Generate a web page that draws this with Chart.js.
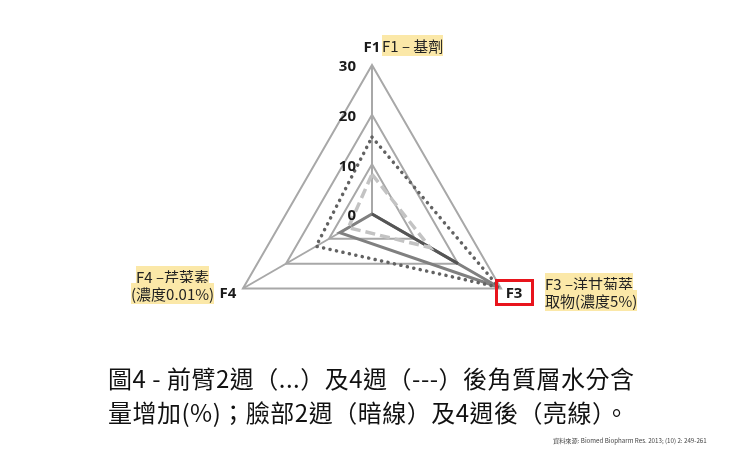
<!DOCTYPE html>
<html>
<head>
<meta charset="utf-8">
<script src="https://cdn.jsdelivr.net/npm/chart.js@4/dist/chart.umd.min.js"></script>
<style>
  html, body { margin: 0; padding: 0; background: #fff; }
  #wrap { position: relative; width: 740px; height: 463px; overflow: hidden; font-family: "Noto Sans CJK TC", "Noto Sans", sans-serif; }
  #chart { position: absolute; left: 0; top: 0; }
  .note { position: absolute; font-size: 15px; line-height: 17px; color: #222; white-space: nowrap; }
  .note span { background: #fbe8a8; }
  #f3box { position: absolute; left: 495px; top: 279px; width: 33px; height: 21px; border: 3.5px solid #e8141c; }
  .title { position: absolute; left: 108px; font-size: 24px; letter-spacing: 0.5px; color: #111; white-space: nowrap; line-height: 30px; }
  #source { position: absolute; left: 553px; top: 436px; font-size: 6.2px; color: #444; white-space: nowrap; }
</style>
</head>
<body>
<div id="wrap">
  <canvas id="chart" width="740" height="463"></canvas>
  <div id="f3box"></div>
  <div class="note" style="left:382px; top:37px;"><span>F1 – 基劑</span></div>
  <div class="note" style="left:545px; top:275px;"><span>F3 –洋甘菊萃</span><br><span>取物(濃度5%)</span></div>
  <div class="note" style="left:131px; top:268px; text-align:center;"><span>F4 –芹菜素</span><br><span>(濃度0.01%)</span></div>
  <div class="title" style="top:363px;">圖4 - 前臂2週（...）及4週（---）後角質層水分含</div>
  <div class="title" style="top:397px;">量增加(%)；臉部2週（暗線）及4週後（亮線）。</div>
  <div id="source">資料來源: Biomed Biopharm Res. 2013; (10) 2: 249-261</div>
</div>
<script>
// axes go clockwise from the top
const labels = ['F1', 'F3', 'F4'];
const tickLabels = [0, 10, 20, 30];

// values
const forearm2w = [15.5, 29.5, 13];
const forearm4w = [8, 13.5, 5.5];
const face2w = [0, 20, 0];
const face4w = [0, 29.5, 7.5];

// where the bold axis names sit relative to each outer corner
const labelOffsets = [[0, -17], [13, 5], [-15, 5]];

const axisText = {
    id: 'axisText',
    afterDraw(chart) {
        const r = chart.scales.r;
        const ctx = chart.ctx;
        ctx.save();
        ctx.fillStyle = '#1a1a1a';
        ctx.font = 'bold 15px "Open Sans"';
        ctx.textBaseline = 'middle';
        ctx.textAlign = 'right';
        tickLabels.forEach(v => {
            const d = r.getDistanceFromCenterForValue(v);
            ctx.fillText(String(v), r.xCenter - 16, r.yCenter - d + 2);
        });
        ctx.textAlign = 'center';
        labels.forEach((lab, i) => {
            const p = r.getPointPosition(i, r.drawingArea);
            ctx.fillText(lab, p.x + labelOffsets[i][0], p.y + labelOffsets[i][1]);
        });
        ctx.restore();
    }
};

const radarData = {
    labels: labels,
    datasets: [{
        label: '前臂2週',
        data: forearm2w,
        borderColor: '#626262',
        borderWidth: 3.5,
        borderDash: [0.1, 6.5],
        borderCapStyle: 'round',
        fill: false,
        clip: false
    }, {
        label: '前臂4週',
        data: forearm4w,
        borderColor: '#c3c3c3',
        borderWidth: 3.5,
        borderDash: [10, 5],
        fill: false,
        clip: false
    }, {
        label: '臉部2週',
        data: face2w,
        borderColor: '#555555',
        borderWidth: 3,
        fill: false,
        clip: false
    }, {
        label: '臉部4週',
        data: face4w,
        borderColor: '#808080',
        borderWidth: 3,
        fill: false,
        clip: false
    }]
};

const radarConfig = {
    type: 'radar',
    data: radarData,
    options: {
        responsive: false,
        animation: false,
        layout: { padding: { left: 223, right: 219, top: 65, bottom: 100 } },
        elements: {
            point: { radius: 0, hoverRadius: 0 },
            line: { tension: 0 }
        },
        plugins: {
            legend: { display: false },
            tooltip: { enabled: false }
        },
        scales: {
            r: {
                min: 0,
                max: 30,
                ticks: { stepSize: 10, display: false },
                pointLabels: { display: false },
                grid: { color: '#a8a8a8', lineWidth: 2 },
                angleLines: { color: '#a8a8a8', lineWidth: 2 }
            }
        }
    },
    plugins: [axisText]
};

new Chart(document.getElementById('chart'), radarConfig);
</script>
</body>
</html>
